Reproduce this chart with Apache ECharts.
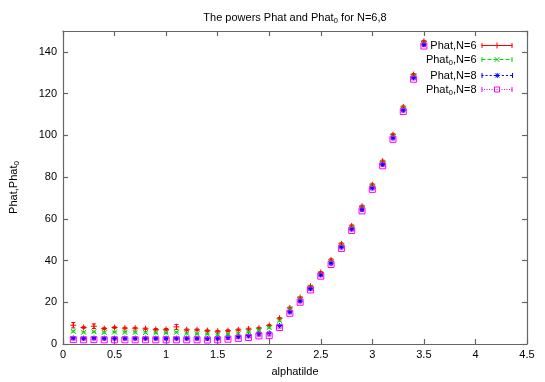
<!DOCTYPE html>
<html><head><meta charset="utf-8">
<script src="https://cdn.jsdelivr.net/npm/echarts@6/dist/echarts.min.js"></script>
<style>html,body{margin:0;padding:0;background:#fff}#c{width:545px;height:382px}</style>
</head><body><div id="c"></div>
<script>
const xValues = [0.1,0.2,0.3,0.4,0.5,0.6,0.7,0.8,0.9,1.0,1.1,1.2,1.3,1.4,1.5,1.6,1.7,1.8,1.9,2.0,2.1,2.2,2.3,2.4,2.5,2.6,2.7,2.8,2.9,3.0,3.1,3.2,3.3,3.4,3.5];
const phatN6  = [9.0,7.9,8.5,7.4,7.9,7.6,7.6,7.3,7.0,7.0,8.2,6.8,6.8,6.4,6.1,6.4,6.8,7.2,7.6,8.9,12.3,17.3,22.2,27.7,34.3,40.3,48.0,56.6,66.0,76.3,87.6,100.3,113.6,129.1,145.0];
const phat0N6 = [6.1,5.6,5.9,5.5,5.7,5.6,5.6,5.5,5.3,5.3,5.6,5.1,4.9,4.8,4.5,4.7,5.0,5.8,6.6,7.9,11.2,16.7,21.6,27.3,33.9,39.6,47.3,55.9,65.3,75.6,86.9,99.6,112.9,128.4,144.3];
const phatN8  = [2.9,2.8,2.9,2.8,2.8,2.8,2.8,2.8,2.8,2.8,2.8,2.8,2.8,2.7,2.8,3.1,3.5,4.0,5.0,5.3,8.9,15.4,20.6,26.5,33.1,38.8,46.5,55.1,64.5,74.8,86.1,98.8,112.1,127.6,143.5];
const phat0N8 = [2.1,2.0,2.1,2.0,2.0,2.0,2.0,2.0,2.0,2.0,2.0,2.0,2.0,1.9,2.0,2.3,2.7,3.1,3.9,4.0,7.9,14.7,20.0,25.9,32.5,38.1,45.8,54.4,63.8,74.1,85.4,98.1,111.4,126.9,142.8];
const errN6   = [1.3,0.4,1.1,0.4,0.4,0.4,0.4,0.4,0.4,0.4,1.2,0.4,0.4,0.4,0.4,0.4,0.4,0.4,0.4,0.4,0.4,0.4,0.4,0.4,0.4,0.5,0.5,0.5,0.5,0.5,0.5,0.5,0.5,0.5,0.5];
const err0N6  = [0.4,0.3,0.3,0.3,0.3,0.3,0.3,0.3,0.3,0.3,0.3,0.3,0.3,0.3,0.3,0.3,0.3,0.3,0.3,0.3,0.3,0.3,0.3,0.3,0.3,0.4,0.4,0.4,0.4,0.4,0.4,0.4,0.4,0.4,0.4];
const errN8   = [0.2,0.2,0.2,0.2,0.2,0.2,0.2,0.2,0.2,0.2,0.2,0.2,0.2,0.2,0.2,0.2,0.2,0.2,0.2,0.2,0.3,0.3,0.3,0.3,0.3,0.3,0.3,0.3,0.3,0.3,0.3,0.3,0.3,0.3,0.3];
const err0N8  = [0.2,0.2,0.2,0.2,0.2,0.2,0.2,0.2,0.2,0.2,0.2,0.2,0.2,0.2,0.2,0.2,0.2,0.2,0.2,0.2,0.3,0.3,0.3,0.3,0.3,0.3,0.3,0.3,0.3,0.3,0.3,0.3,0.3,0.3,0.3];
const seriesNames = ['Phat,N=6','Phat0,N=6','Phat,N=8','Phat0,N=8'];
const xTicks = {min:0, max:4.5, interval:0.5};
const yTicks = {min:0, max:150, interval:20};

const colors = ['#ff0000','#00dd00','#0000ff','#ff00ff'];
const symbols = [
  'path://M0,5L10,5M5,0L5,10',
  'path://M0,0L10,10M10,0L0,10',
  'path://M0,5L10,5M5,0L5,10M1.5,1.5L8.5,8.5M8.5,1.5L1.5,8.5',
  'path://M0,0L10,0L10,10L0,10Z'
];
const sizes = [6,5,5,6];
const values = [phatN6, phat0N6, phatN8, phat0N8];
const errs = [errN6, err0N6, errN8, err0N8];

// legend sample icons: dashed line + end caps + marker (31 x 7 box)
function dashPath(on, off) {
  if (!off) return 'M0,3.5L31,3.5';
  let s = '';
  for (let x = 0; x < 31; x += on + off) s += 'M' + x + ',3.5L' + Math.min(x + on, 31) + ',3.5';
  return s;
}
const caps = 'M0.5,1L0.5,6M30.5,1L30.5,6';
const markersLegend = [
  'M15.5,0.5L15.5,6.5M12.5,3.5L18.5,3.5',
  'M13,1L18,6M18,1L13,6',
  'M15.5,1L15.5,6M13,3.5L18,3.5M13.5,1.5L17.5,5.5M17.5,1.5L13.5,5.5',
  'M13,1L18,1L18,6L13,6Z'
];
const dashSpec = [[0,0],[4,2],[2,2],[1,1.5]];
const legendIcons = dashSpec.map((d,k)=>'path://M0,0L31,0M0,7L31,7' === '' ? '' :
  'path://' + dashPath(d[0], d[1]) + caps + markersLegend[k]);

const FONT = '"Liberation Sans", Arial, sans-serif';
const sub = {fontSize: 8, fontFamily: FONT, color:'#000', padding:[7,0,0,0]};

function errSeries(data, err, color) {
  return {
    type:'custom', silent:true, animation:false, z:2,
    data: xValues.map((x,i)=>[x, data[i]-err[i], data[i]+err[i]]),
    encode:{x:0, y:[1,2]},
    renderItem(params, api) {
      const p1 = api.coord([api.value(0), api.value(1)]);
      const p2 = api.coord([api.value(0), api.value(2)]);
      const c = 2;
      const st = {stroke:color, lineWidth:1};
      return {type:'group', children:[
        {type:'line', shape:{x1:p1[0],y1:p1[1],x2:p2[0],y2:p2[1]}, style:st},
        {type:'line', shape:{x1:p1[0]-c,y1:p1[1],x2:p1[0]+c,y2:p1[1]}, style:st},
        {type:'line', shape:{x1:p2[0]-c,y1:p2[1],x2:p2[0]+c,y2:p2[1]}, style:st}
      ]};
    }
  };
}

const series = [];
values.forEach((v,k)=>{
  series.push(errSeries(v, errs[k], colors[k]));
});
values.forEach((v,k)=>{
  series.push({
    type:'line', name: seriesNames[k], z:3,
    data: xValues.map((x,i)=>[x, v[i]]),
    symbol: symbols[k], symbolSize: sizes[k], showSymbol:true,
    lineStyle:{width:0, opacity:0},
    itemStyle:{color:'rgba(0,0,0,0)', borderColor:colors[k], borderWidth:1},
    emphasis:{disabled:true}, animation:false
  });
});

const axisLineStyle = {color:'#666', width:1.2};
const chart = echarts.init(document.getElementById('c'), null, {renderer:'canvas'});
chart.setOption({
  backgroundColor:'#fff',
  animation:false,
  title:{
    text:'The powers Phat and Phat{s|0} for N=6,8',
    left: 290, top: 5, textAlign:'center',
    textStyle:{fontSize:11, fontWeight:'normal', fontFamily:FONT, color:'#000', rich:{s:sub}}
  },
  legend:{
    orient:'vertical', right:27, top:35, align:'right',
    itemWidth:31, itemHeight:7, itemGap:3,
    textStyle:{fontSize:11, fontFamily:FONT, color:'#000', rich:{s:sub}},
    formatter: n => n.replace('Phat0','Phat{s|0}'),
    data: seriesNames.map((n,k)=>({
      name:n, icon: legendIcons[k],
      itemStyle:{color:'rgba(0,0,0,0)', borderColor:colors[k], borderWidth:1, opacity:1}
    }))
  },
  grid:{left:53, right:18, top:31, bottom:32.5, containLabel:false},
  xAxis:[{
    type:'value', min:xTicks.min, max:xTicks.max, interval:xTicks.interval,
    name:'alphatilde', nameLocation:'middle', nameGap:22,
    nameTextStyle:{fontSize:11, fontFamily:FONT, color:'#000'},
    axisLine:{show:true, lineStyle:axisLineStyle},
    axisTick:{show:true, inside:true, length:5, lineStyle:axisLineStyle},
    axisLabel:{fontSize:11, fontFamily:FONT, color:'#000', margin:5},
    splitLine:{show:false}
  },{
    type:'value', position:'top', min:xTicks.min, max:xTicks.max, interval:xTicks.interval,
    axisLine:{show:true, onZero:false, lineStyle:axisLineStyle},
    axisTick:{show:true, inside:true, length:5, lineStyle:axisLineStyle},
    axisLabel:{show:false}, splitLine:{show:false}
  }],
  yAxis:[{
    type:'value', min:yTicks.min, max:yTicks.max, interval:yTicks.interval,
    name:'Phat,Phat{s|0}', nameLocation:'middle', nameGap:42, nameRotate:90,
    nameTextStyle:{fontSize:11, fontFamily:FONT, color:'#000', rich:{s:sub}},
    axisLine:{show:true, lineStyle:axisLineStyle},
    axisTick:{show:true, inside:true, length:5, lineStyle:axisLineStyle},
    axisLabel:{fontSize:11, fontFamily:FONT, color:'#000', margin:6, showMaxLabel:false,
      formatter: v => (v % 20 === 0 ? String(v) : '')},
    splitLine:{show:false}
  },{
    type:'value', position:'right', min:yTicks.min, max:yTicks.max, interval:yTicks.interval,
    axisLine:{show:true, onZero:false, lineStyle:axisLineStyle},
    axisTick:{show:true, inside:true, length:5, lineStyle:axisLineStyle},
    axisLabel:{show:false}, splitLine:{show:false}
  }],
  series: series
});
</script>
</body></html>
